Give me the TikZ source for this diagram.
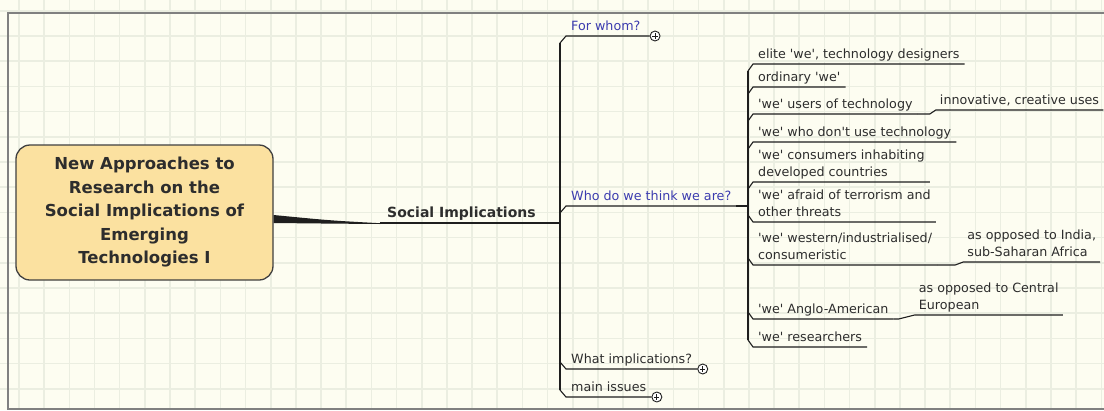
\documentclass[tikz,border=0pt]{standalone}
\usepackage{fontspec}
\newfontfamily\uifont{DejaVu Sans}
\usetikzlibrary{positioning}
\definecolor{paper}{RGB}{253,253,241}
\definecolor{gridc}{RGB}{235,238,225}
\definecolor{framec}{RGB}{128,128,128}
\definecolor{ink}{RGB}{30,30,30}
\definecolor{txt}{RGB}{45,45,45}
\definecolor{qblue}{RGB}{60,60,175}
\definecolor{boxfill}{RGB}{251,225,160}

\begin{document}
\begin{tikzpicture}[x=1pt, y=-1pt,
  central/.style={draw=ink!85, line width=1.3pt, fill=boxfill, rounded corners=14pt, minimum width=257pt, minimum height=135pt, align=center, text=txt, font=\uifont\bfseries\fontsize{16.5}{23.5}\selectfont},
  topic/.style={anchor=south west, inner xsep=5pt, inner ysep=0pt, align=left, text=txt, font=\uifont\fontsize{12.7}{17}\selectfont, execute at end node=\strut},
  heading/.style={topic, inner xsep=7pt, font=\uifont\bfseries\fontsize{14}{17}\selectfont},
  ask/.style={topic, text=qblue},
  link/.style={draw=ink, line width=1.1pt},
  plusmark/.style={circle, draw=ink, fill=white, line width=0.9pt, minimum size=10pt, inner sep=0pt,
    path picture={\draw[ink, line width=0.8pt] ([xshift=-2.6pt]path picture bounding box.center) -- ([xshift=2.6pt]path picture bounding box.center) ([yshift=-2.6pt]path picture bounding box.center) -- ([yshift=2.6pt]path picture bounding box.center);}}]
\useasboundingbox (0,0) rectangle (1104,410);
% paper and grid
\fill[paper] (0,0) rectangle (1104,410);
\foreach \gx in {0,...,43} \draw[gridc, line width=1.6pt] ({19+25.17*\gx},0) -- ++(0,410);
\foreach \gy in {0,...,16} \draw[gridc, line width=1.6pt] (0,{10.8+25.2*\gy}) -- ++(1104,0);
\draw[framec, line width=1.5pt] (1104,13) -- (8,13) -- (8,409) -- (1104,409);

\node[central] (root) at (144.5,212.5) {New Approaches to\\Research on the\\Social Implications of\\Emerging\\Technologies I};
\node[heading] (soc) at (380,223) {Social Implications};
\coordinate (trunk) at (560,223);
\coordinate (hub) at (748,206);

% first level
\node[ask] (whom) at (566,36) {For whom?};
\node[ask] (who) at (566,206) {Who do we think we are?};
\node[topic] (what) at (566,369) {What implications?};
\node[topic] (issues) at (566,397) {main issues};
\node[plusmark, right=4pt of whom.south east] (p1) {};
\node[plusmark, right=0pt of what.south east] (p2) {};
\node[plusmark, right=0pt of issues.south east] (p3) {};

% second level
\node[topic] (elite) at (753,64) {elite 'we', technology designers};
\node[topic] (ord) at (753,87) {ordinary 'we'};
\node[topic] (users) at (753,114) {'we' users of technology};
\node[topic] (nonusers) at (753,142) {'we' who don't use technology};
\node[topic] (cons) at (753,182) {'we' consumers inhabiting\\developed countries};
\node[topic] (fear) at (753,222) {'we' afraid of terrorism and\\other threats};
\node[topic] (west) at (753,265) {'we' western/industrialised/\\consumeristic};
\node[topic] (anglo) at (753,319) {'we' Anglo-American};
\node[topic] (res) at (753,347) {'we' researchers};

% third level
\node[topic, inner xsep=4pt, above right=4pt and 18pt of users.south east] (innov) {innovative, creative uses};
\node[topic, inner xsep=4pt, above right=3pt and 26pt of west.south east] (india) {as opposed to India,\\sub-Saharan Africa};
\node[topic, inner xsep=4pt, above right=4pt and 21pt of anglo.south east] (euro) {as opposed to Central\\European};

% connectors
\fill[ink] ([yshift=-2.5pt]root.east) .. controls (330,220.5) .. ([yshift=-0.2pt]soc.south west) -- ([yshift=-1pt]soc.south west) .. controls (330,223.6) .. ([yshift=-10.5pt]root.east) -- cycle;
\draw[link] (soc.south west) -- (trunk);
\draw[link] ([shift={(-6pt,-7pt)}]whom.south west) -- ([shift={(-6pt,7pt)}]issues.south west);
\draw[link] ([shift={(-6pt,-7pt)}]whom.south west) -- (whom.south west) -- (p1.west);
\draw[link] ([shift={(-6pt,-7pt)}]who.south west) -- (who.south west) -- (hub);
\draw[link, line width=2.6pt] (who.south east) -- (hub);
\draw[link] ([shift={(-6pt,7pt)}]what.south west) -- (what.south west) -- (p2.west);
\draw[link] ([shift={(-6pt,7pt)}]issues.south west) -- (issues.south west) -- (p3.west);

\draw[link] ([shift={(-5pt,-7pt)}]elite.south west) -- ([shift={(-5pt,7pt)}]res.south west);
\draw[link] ([shift={(-5pt,-7pt)}]elite.south west) -- (elite.south west) -- (elite.south east);
\draw[link] ([shift={(-5pt,-7pt)}]ord.south west) -- (ord.south west) -- (ord.south east);
\draw[link] ([shift={(-5pt,-7pt)}]users.south west) -- (users.south west) -- (users.south east);
\draw[link] ([shift={(-5pt,-7pt)}]nonusers.south west) -- (nonusers.south west) -- (nonusers.south east);
\draw[link] ([shift={(-5pt,-7pt)}]cons.south west) -- (cons.south west) -- (cons.south east);
\draw[link] ([shift={(-5pt,7pt)}]fear.south west) -- (fear.south west) -- (fear.south east);
\draw[link] ([shift={(-5pt,7pt)}]west.south west) -- (west.south west) -- (west.south east);
\draw[link] ([shift={(-5pt,7pt)}]anglo.south west) -- (anglo.south west) -- (anglo.south east);
\draw[link] ([shift={(-5pt,7pt)}]res.south west) -- (res.south west) -- (res.south east);

\draw[link] (users.south east) -- ([shift={(-6pt,-4pt)}]innov.south west) -- (innov.south west) -- (innov.south east);
\draw[link] (west.south east) -- ([shift={(-8pt,-3pt)}]india.south west) -- (india.south west) -- (india.south east);
\draw[link] (anglo.south east) -- ([shift={(-16pt,-4pt)}]euro.south west) -- (euro.south west) -- (euro.south east);
\end{tikzpicture}
\end{document}
